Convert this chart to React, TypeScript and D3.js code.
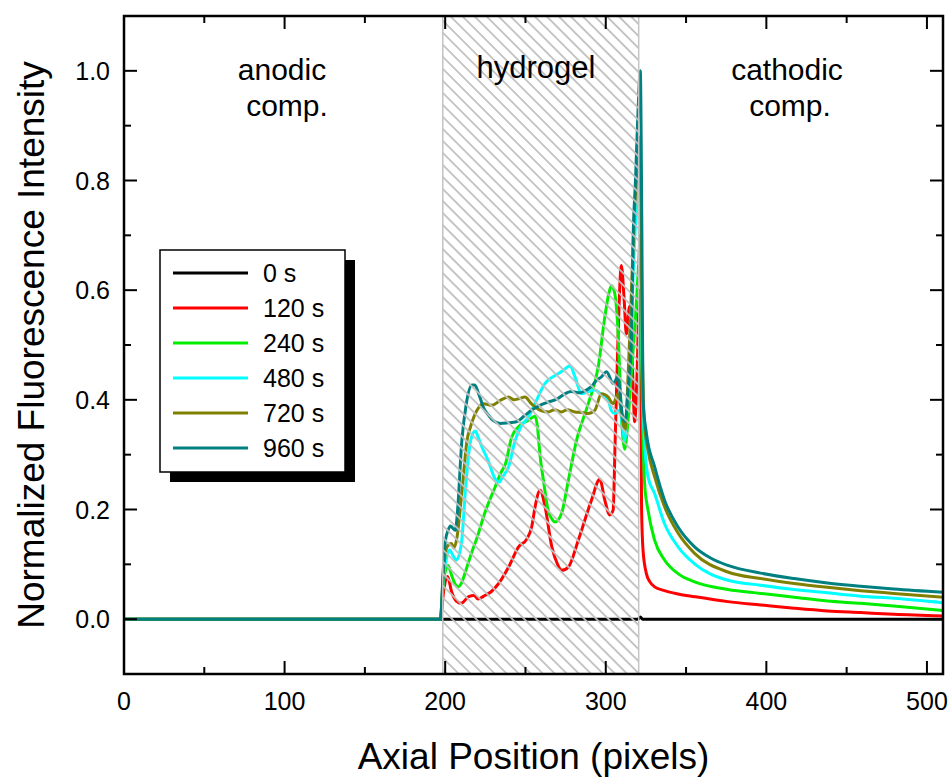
import React from "react";
import * as d3 from "d3";

type Pt = [number, number];

// ---- data (axial position in pixels, normalized intensity) ----
const seriesNames = ["0 s", "120 s", "240 s", "480 s", "720 s", "960 s"];
const seriesColors = ["#000000", "#ff0000", "#00ee00", "#00ffff", "#808000", "#008080"];

const s0: Pt[] = [[0, 0], [320, 0], [321.5, 0.004], [323, 0], [510, 0]];

const s120: Pt[] = [[0, 0], [197, 0], [199, 0.05], [201.5, 0.078], [204, 0.05], [207, 0.033], [210, 0.029], [214.6, 0.041], [218, 0.043], [220.5, 0.037], [224, 0.042], [228.6, 0.05], [233.3, 0.065], [239.5, 0.095], [245.7, 0.132], [250.8, 0.146], [254, 0.17], [256, 0.205], [259.1, 0.235], [262.2, 0.205], [266.4, 0.132], [270, 0.1], [272.5, 0.089], [276.7, 0.095], [282.9, 0.144], [291.1, 0.217], [296.3, 0.255], [299.4, 0.217], [302.5, 0.19], [304.6, 0.199], [305.8, 0.32], [307.5, 0.5], [309.7, 0.645], [311.5, 0.58], [312.8, 0.52], [314.8, 0.57], [316.5, 0.47], [318, 0.36], [319.5, 0.45], [321, 0.6], [321.8, 0.45], [322.3, 0.2], [323.2, 0.126], [325.3, 0.083], [327.5, 0.068], [330.4, 0.059], [336.6, 0.052], [345, 0.046], [355.3, 0.041], [376, 0.032], [396.4, 0.026], [417.3, 0.02], [438, 0.015], [458.7, 0.012], [479.3, 0.009], [510, 0.006]];

const s240: Pt[] = [[0, 0], [197, 0], [199, 0.07], [201.8, 0.098], [204, 0.08], [206, 0.065], [208, 0.059], [210, 0.065], [213, 0.09], [216.3, 0.12], [220, 0.15], [224.6, 0.193], [231.1, 0.241], [234.9, 0.268], [237.4, 0.282], [241.4, 0.332], [245.7, 0.351], [251.9, 0.363], [256, 0.37], [257.5, 0.35], [259, 0.3], [261.2, 0.253], [264, 0.2], [266.4, 0.183], [268.4, 0.177], [272.5, 0.193], [276.7, 0.253], [281.8, 0.326], [289.1, 0.393], [295.3, 0.46], [299.4, 0.551], [302, 0.595], [303.5, 0.608], [305.6, 0.594], [307.7, 0.521], [309.8, 0.369], [311.8, 0.31], [313.5, 0.35], [316, 0.45], [318.5, 0.55], [320.5, 0.65], [321.5, 0.7], [322.5, 0.45], [324.2, 0.247], [326.3, 0.199], [330.4, 0.144], [336.6, 0.108], [345, 0.083], [355.3, 0.068], [376, 0.054], [396.4, 0.047], [417.3, 0.04], [438, 0.033], [458.7, 0.029], [479.3, 0.024], [510, 0.016]];

const s480: Pt[] = [[0, 0], [197, 0], [199, 0.08], [200.2, 0.101], [202.8, 0.126], [205, 0.115], [207, 0.108], [210.1, 0.138], [212.6, 0.235], [215, 0.31], [217.3, 0.339], [218.8, 0.343], [220.4, 0.333], [222.9, 0.314], [226.6, 0.29], [231.1, 0.256], [233.5, 0.25], [235.9, 0.26], [239.5, 0.278], [243.6, 0.326], [247, 0.35], [251.9, 0.369], [257, 0.4], [262.2, 0.43], [266, 0.44], [270.5, 0.448], [274, 0.455], [277.7, 0.462], [280.8, 0.442], [284.9, 0.411], [289, 0.415], [293.2, 0.418], [297, 0.41], [301.5, 0.4], [303.5, 0.38], [305.6, 0.375], [308.7, 0.381], [310.5, 0.35], [311.8, 0.326], [313.5, 0.4], [314.8, 0.448], [316.5, 0.58], [317.9, 0.69], [319.5, 0.75], [321.5, 0.8], [322.5, 0.5], [324, 0.33], [326.3, 0.26], [330.4, 0.229], [336.6, 0.174], [345, 0.132], [355.3, 0.101], [376, 0.071], [396.4, 0.062], [417.3, 0.054], [438, 0.048], [458.7, 0.042], [479.3, 0.038], [510, 0.03]];

const s720: Pt[] = [[0, 0], [197, 0], [199, 0.09], [201.2, 0.132], [203.9, 0.138], [205.5, 0.13], [207.4, 0.15], [210.5, 0.235], [213.6, 0.326], [215.7, 0.35], [219.8, 0.381], [224, 0.393], [229.1, 0.39], [234.3, 0.399], [239.5, 0.405], [243, 0.4], [245.7, 0.402], [249.8, 0.405], [253, 0.395], [256, 0.387], [260, 0.38], [264.3, 0.378], [268, 0.382], [272.5, 0.378], [276, 0.382], [280.8, 0.378], [285, 0.377], [289.1, 0.375], [293.2, 0.381], [297.3, 0.411], [301.5, 0.405], [304.6, 0.393], [307.7, 0.411], [309.5, 0.38], [310.8, 0.357], [312, 0.345], [314, 0.45], [316, 0.6], [318, 0.75], [320, 0.83], [321.5, 0.88], [322.5, 0.55], [324, 0.36], [326.3, 0.308], [330.4, 0.26], [336.6, 0.205], [345, 0.157], [355.3, 0.12], [376, 0.086], [396.4, 0.074], [417.3, 0.065], [438, 0.058], [458.7, 0.052], [479.3, 0.047], [510, 0.04]];

const s960: Pt[] = [[0, 0], [197, 0], [199, 0.1], [200.2, 0.144], [201.8, 0.162], [203.3, 0.17], [205, 0.165], [206.4, 0.162], [207.5, 0.19], [210.4, 0.326], [213, 0.39], [216.7, 0.427], [218.4, 0.427], [221, 0.41], [224, 0.385], [227, 0.372], [230, 0.362], [234.3, 0.357], [239, 0.358], [244.4, 0.36], [249, 0.37], [253.7, 0.381], [259, 0.39], [264.3, 0.396], [270, 0.402], [274, 0.41], [278.6, 0.415], [284, 0.413], [288, 0.418], [291, 0.424], [294, 0.435], [297.3, 0.442], [300.5, 0.451], [304.6, 0.43], [307.7, 0.442], [309, 0.41], [310.2, 0.375], [312, 0.36], [314, 0.42], [316, 0.509], [317, 0.69], [318.5, 0.8], [320, 0.92], [321.5, 1.0], [322.5, 0.7], [323.2, 0.4], [325.3, 0.339], [330.4, 0.278], [336.6, 0.217], [345, 0.168], [355.3, 0.132], [365, 0.112], [376, 0.098], [396.4, 0.084], [417.3, 0.074], [438, 0.066], [458.7, 0.06], [479.3, 0.055], [510, 0.049]];

const allSeries: Pt[][] = [s0, s120, s240, s480, s720, s960];

const xTicks = [0, 100, 200, 300, 400, 500];
const xMinorTicks = [50, 150, 250, 350, 450];
const yTicks = [0.0, 0.2, 0.4, 0.6, 0.8, 1.0];
const yMinorTicks = [-0.1, 0.1, 0.3, 0.5, 0.7, 0.9, 1.1];
const hydrogelRange: [number, number] = [198.5, 320.5];

const FONT = "'Liberation Sans', Arial, Helvetica, sans-serif";

export default function App() {
  const W = 951, H = 777;
  const L = 124, R = 943, T = 16, B = 674;
  const x = d3.scaleLinear().domain([0, 510]).range([L, R]);
  const y = d3.scaleLinear().domain([-0.1, 1.1]).range([B, T]);
  const line = d3.line<Pt>().x(d => x(d[0])).y(d => y(d[1])).curve(d3.curveMonotoneX);

  const majLen = 13, minLen = 7;
  const hx0 = x(hydrogelRange[0]), hx1 = x(hydrogelRange[1]);

  const legX = 160, legY = 250, legW = 185, legH = 222, legRow = 35;

  return (
    <svg width={W} height={H} style={{ position: "absolute", left: 0, top: 0, background: "#fff" }} fontFamily={FONT}>
      <defs>
        <clipPath id="plotclip"><rect x={L} y={T} width={R - L} height={B - T} /></clipPath>
        <pattern id="hatch" patternUnits="userSpaceOnUse" width={8.5} height={20} patternTransform="rotate(-45)">
          <line x1={1} y1={-5} x2={1} y2={25} stroke="#c0c0c0" strokeWidth={1.8} />
        </pattern>
      </defs>
      <rect x={0} y={0} width={W} height={H} fill="#fff" />

      {/* curves */}
      <g clipPath="url(#plotclip)">
        {allSeries.map((s, i) => (
          <path key={i} d={line(s) || ""} fill="none" stroke={seriesColors[i]} strokeWidth={3} strokeLinejoin="round" />
        ))}
      </g>

      {/* hydrogel hatch on top */}
      <rect x={hx0} y={T} width={hx1 - hx0} height={B - T} fill="url(#hatch)" stroke="#c4c4c4" strokeWidth={1.5} />

      {/* frame */}
      <rect x={L} y={T} width={R - L} height={B - T} fill="none" stroke="#000" strokeWidth={2.5} />

      {/* x ticks bottom & top */}
      {xTicks.map(t => (
        <g key={"xt" + t}>
          <line x1={x(t)} x2={x(t)} y1={B} y2={B - majLen} stroke="#000" strokeWidth={2} />
          <line x1={x(t)} x2={x(t)} y1={T} y2={T + majLen} stroke="#000" strokeWidth={2} />
          <text x={x(t)} y={710} textAnchor="middle" fontSize={25}>{t}</text>
        </g>
      ))}
      {xMinorTicks.map(t => (
        <g key={"xm" + t}>
          <line x1={x(t)} x2={x(t)} y1={B} y2={B - minLen} stroke="#000" strokeWidth={2} />
          <line x1={x(t)} x2={x(t)} y1={T} y2={T + minLen} stroke="#000" strokeWidth={2} />
        </g>
      ))}
      {/* y ticks left & right */}
      {yTicks.map(t => (
        <g key={"yt" + t}>
          <line x1={L} x2={L + majLen} y1={y(t)} y2={y(t)} stroke="#000" strokeWidth={2} />
          <line x1={R} x2={R - majLen} y1={y(t)} y2={y(t)} stroke="#000" strokeWidth={2} />
          <text x={110} y={y(t)} dy="0.36em" textAnchor="end" fontSize={25}>{t.toFixed(1)}</text>
        </g>
      ))}
      {yMinorTicks.map(t => (
        <g key={"ym" + t}>
          <line x1={L} x2={L + minLen} y1={y(t)} y2={y(t)} stroke="#000" strokeWidth={2} />
          <line x1={R} x2={R - minLen} y1={y(t)} y2={y(t)} stroke="#000" strokeWidth={2} />
        </g>
      ))}

      {/* region labels */}
      <g fontSize={30} textAnchor="middle">
        <text x={282} y={80}>anodic</text>
        <text x={287} y={116}>comp.</text>
        <text x={536} y={78} fontSize={31}>hydrogel</text>
        <text x={787} y={80}>cathodic</text>
        <text x={790} y={116}>comp.</text>
      </g>

      {/* legend */}
      <rect x={legX + 10} y={legY + 10} width={legW} height={legH} fill="#000" />
      <rect x={legX} y={legY} width={legW} height={legH} fill="#fff" stroke="#000" strokeWidth={1.5} />
      {seriesNames.map((n, i) => (
        <g key={n}>
          <line x1={173} x2={248} y1={273 + i * legRow} y2={273 + i * legRow} stroke={seriesColors[i]} strokeWidth={3} />
          <text x={263} y={273 + i * legRow} dy="0.36em" fontSize={25}>{n}</text>
        </g>
      ))}

      {/* axis titles */}
      <text x={(L + R) / 2} y={769} textAnchor="middle" fontSize={37}>Axial Position (pixels)</text>
      <text transform={`translate(44, ${(T + B) / 2}) rotate(-90)`} textAnchor="middle" fontSize={37}>Normalized Fluorescence Intensity</text>
    </svg>
  );
}
